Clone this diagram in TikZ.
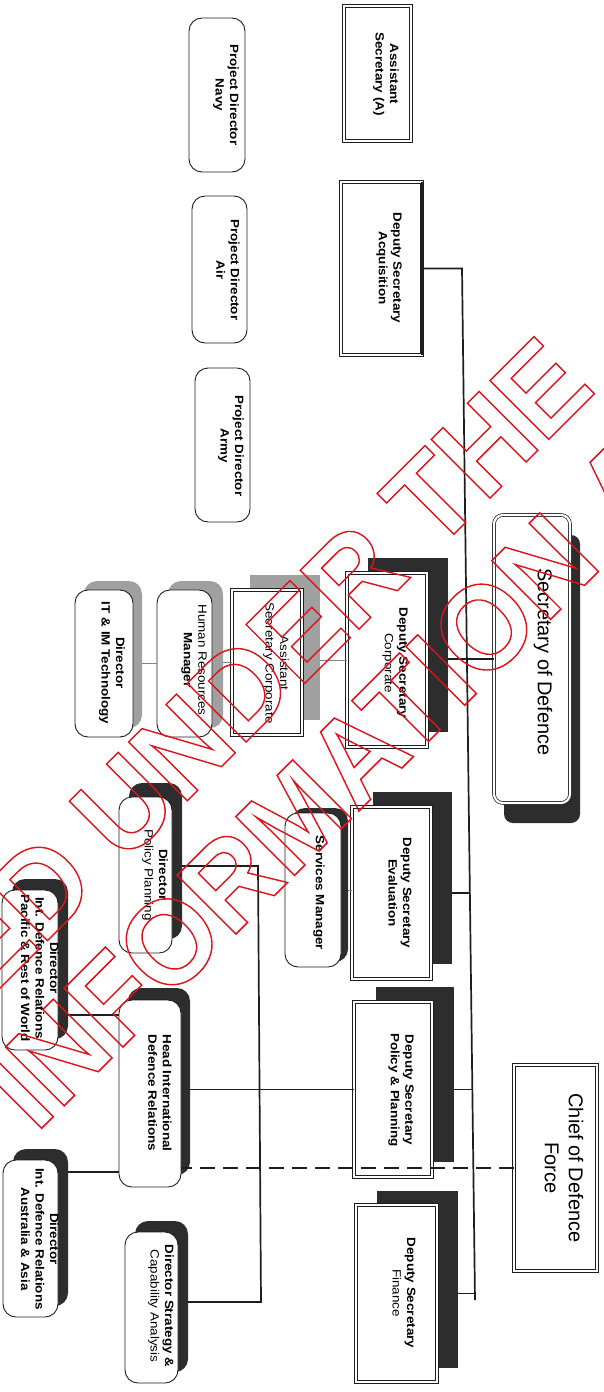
\documentclass[tikz,border=0pt]{standalone}
\usepackage{fontspec}
\setmainfont{Liberation Sans}
\usetikzlibrary{calc}
\definecolor{ink}{RGB}{30,30,30}
\definecolor{shade}{RGB}{45,45,45}
\definecolor{gshade}{RGB}{160,160,160}
\definecolor{wmred}{RGB}{220,20,30}
\newcommand\wmraw[1]{{\color{wmred}\special{pdf:literal direct 1 Tr 1.4 w}#1\special{pdf:literal direct 0 Tr}}}
\tikzset{
  bx/.style={inner sep=0pt, outer sep=0pt},
  rbox/.style={bx, draw=ink, fill=white, line width=0.9pt, rounded corners=13pt},
  dbox/.style={bx, draw=ink, fill=white, line width=0.7pt, double=white, double distance=2.2pt},
  drbox/.style={dbox, rounded corners=9pt},
  dsh/.style={bx, fill=shade},
  dshr/.style={dsh, rounded corners=13pt},
  dshq/.style={dsh, rounded corners=9pt},
  gsh/.style={bx, fill=gshade},
  gshr/.style={gsh, rounded corners=13pt},
  lbl/.style={rotate=-90, xscale=1.12, align=center, inner sep=0pt, font=\fontsize{12}{14.5}\selectfont\bfseries},
  lblr/.style={lbl, font=\fontsize{12}{14.5}\selectfont},
  big/.style={rotate=-90, align=center, inner sep=0pt, font=\fontsize{20}{24}\selectfont},
  conn/.style={draw=ink, line width=1.7pt},
  thinc/.style={draw=ink!55, line width=0.9pt},
  wm/.style={rotate=45, yscale=1.05, inner sep=0pt, outer sep=0pt, font=\fontsize{115}{130}\selectfont\bfseries}
}
\begin{document}
\begin{tikzpicture}[x=1pt, y=-1pt]
\useasboundingbox (0,0) rectangle (604,1392);
\fill[white] (0,0) rectangle (604,1392);
\clip (0,0) rectangle (604,1392);

% ---------- top-level column ----------
\node[dbox, minimum width=67pt, minimum height=135pt] (asA) at (377.5,73.5) {};
\node[lbl] (asA-t) at (386,74) {Assistant\\Secretary (A)};

\node[dbox, minimum width=81pt, minimum height=173pt] (dsAcq) at (381.5,268.5) {};
\draw[ink, line width=2.4pt] (dsAcq.north east) -- (dsAcq.south east);
\node[lbl] (dsAcq-t) at (389,268) {Deputy Secretary\\Acquisition};

\node[rbox, minimum width=56pt, minimum height=154pt] (pdNavy) at (217,95) {};
\node[lbl] (pdNavy-t) at (226,95) {Project Director\\Navy};
\node[rbox, minimum width=55pt, minimum height=147pt] (pdAir) at (219.5,269.5) {};
\node[lbl] (pdAir-t) at (228,270) {Project Director\\Air};
\node[rbox, minimum width=55pt, minimum height=154pt] (pdArmy) at (222.5,445) {};
\node[lbl] (pdArmy-t) at (231,446) {Project Director\\Army};

% ---------- Secretary of Defence ----------
\node[dshq, minimum width=76pt, minimum height=288pt] (secDefS) at (542,679) {};
\node[drbox, minimum width=76pt, minimum height=288pt] (secDef) at (532,659) {};
\node[big] (secDef-t) at (543,662) {Secretary of Defence};

% ---------- Corporate row ----------
\node[dsh, minimum width=80pt, minimum height=174pt] (dsCorpS) at (408,645) {};
\node[dbox, minimum width=80pt, minimum height=174pt] (dsCorp) at (387,660) {};
\node[lbl] (dsCorp-t) at (395,663) {Deputy Secretary\\{\mdseries Corporate}};

\node[gsh, minimum width=70pt, minimum height=145pt] (asCorpS) at (285,647.5) {};
\node[dbox, minimum width=70pt, minimum height=145pt] (asCorp) at (267,662.5) {};
\node[lblr] (asCorp-t) at (276,663) {Assistant\\Secretary Corporate};

\node[gshr, minimum width=55pt, minimum height=147pt] (hrS) at (195.5,654.5) {};
\node[rbox, minimum width=55pt, minimum height=147pt] (hr) at (184.5,663.5) {};
\node[lbl] (hr-t) at (194,660) {{\mdseries Human Resources}\\Manager};

\node[gshr, minimum width=58pt, minimum height=147pt] (itS) at (113,654.5) {};
\node[rbox, minimum width=58pt, minimum height=147pt] (it) at (104,663.5) {};
\node[lbl] (it-t) at (112,663) {Director\\IT \& IM Technology};

% ---------- Evaluation / Policy rows ----------
\node[dshr, minimum width=53pt, minimum height=156pt] (dirPPS) at (155.5,861) {};
\node[rbox, minimum width=53pt, minimum height=156pt] (dirPP) at (145.5,875) {};
\node[lbl] (dirPP-t) at (155,875) {Director\\{\mdseries Policy Planning}};

\node[dshr, minimum width=56pt, minimum height=154pt] (svcS) at (320,885) {};
\node[rbox, minimum width=56pt, minimum height=154pt] (svc) at (313,890) {};
\node[lbl] (svc-t) at (319,893) {Services Manager};

\node[dsh, minimum width=79pt, minimum height=172pt] (dsEvalS) at (412.5,878) {};
\node[dbox, minimum width=79pt, minimum height=172pt] (dsEval) at (391.5,893) {};
\node[lbl] (dsEval-t) at (400,893) {Deputy Secretary\\Evaluation};

\node[dsh, minimum width=78pt, minimum height=175pt] (dsPPS) at (415,1074.5) {};
\node[dbox, minimum width=78pt, minimum height=175pt] (dsPP) at (393,1089.5) {};
\node[lbl] (dsPP-t) at (401,1090) {Deputy Secretary\\Policy \& Planning};

\node[dsh, minimum width=81pt, minimum height=177pt] (dsFinS) at (417.5,1279.5) {};
\node[dbox, minimum width=81pt, minimum height=177pt] (dsFin) at (396.5,1293.5) {};
\node[lbl] (dsFin-t) at (404,1293) {Deputy Secretary\\{\mdseries Finance}};

\node[dshr, minimum width=62pt, minimum height=187pt] (headS) at (159,1081.5) {};
\node[rbox, minimum width=62pt, minimum height=187pt] (head) at (150,1093.5) {};
\node[lbl] (head-t) at (160,1093) {Head International\\Defence Relations};

\node[dshr, minimum width=56pt, minimum height=160pt] (dirPacS) at (40,959) {};
\node[rbox, minimum width=56pt, minimum height=160pt] (dirPac) at (30,970) {};
\node[lbl] (dirPac-t) at (40,968) {Director\\Int. Defence Relations\\Pacific \& Rest of World};

\node[dshr, minimum width=55pt, minimum height=157pt] (dirAusS) at (40.5,1227.5) {};
\node[rbox, minimum width=55pt, minimum height=157pt] (dirAus) at (30.5,1238.5) {};
\node[lbl] (dirAus-t) at (40,1239) {Director\\Int. Defence Relations\\Australia \& Asia};

\node[dshr, minimum width=53pt, minimum height=151pt] (dirStratS) at (161.5,1296.5) {};
\node[rbox, minimum width=53pt, minimum height=151pt] (dirStrat) at (151.5,1307.5) {};
\node[lbl] (dirStrat-t) at (161,1306) {Director Strategy \&\\{\mdseries Capability Analysis}};

\node[dbox, minimum width=83pt, minimum height=206pt] (chief) at (555.5,1168) {};
\node[big] (chief-t) at (564,1168) {Chief of Defence\\Force};

% ---------- connectors ----------
\coordinate (vtop) at (462,268.5);
\coordinate (vbot) at (475,1300);
\coordinate (jEval) at (470,893);
\coordinate (jPP) at (472.3,1089.5);
\coordinate (jFin) at (474.9,1293.5);
\coordinate (pTop) at (258,866);
\coordinate (pBot) at (261,1302);
\coordinate (pacY) at (90,1015);
\coordinate (ausY) at (90,1172);

\draw[conn] (dsAcq.east) -- (vtop) -- (vbot);
\draw[conn] (secDef.west) -- (secDef.west -| dsCorpS.east);
\draw[thinc] (dsCorp.west) -- (dsCorp.west -| asCorpS.east);
\draw[thinc] (asCorp.west) -- (asCorp.west -| hrS.east);
\draw[thinc] (hr.west) -- (hr.west -| itS.east);
\draw[conn] (dsEvalS.east |- dsEval.east) -- (jEval);
\draw[thinc] (svcS.east |- svc.east) -- (svc.east -| dsEval.west);
\draw[conn] (dsPPS.east |- dsPP.east) -- (jPP);
\draw[conn] (dsFinS.east |- dsFin.east) -- (jFin);
\draw[conn] (dsPP.west) -- (dsPP.west -| headS.east);
\draw[conn] (dirPPS.east |- pTop) -- (pTop) -- (pBot) -- (pBot -| dirStratS.east);
\draw[conn] (dirPacS.east |- pacY) -- (head.west |- pacY);
\draw[conn] (dirAusS.east |- ausY) -- (head.west |- ausY);
\draw[conn, line width=1.3pt, dash pattern=on 15pt off 8pt] (chief.west) -- (chief.west -| head.east);

% ---------- watermark (outlined red text) ----------
\node[wm, anchor=base east] (wm1) at (597.7,390.4) {\wmraw{RELEASED UNDER THE}};
\node[wm, anchor=base west] (wm2) at (36.2,1133.8) {\wmraw{INFORMATION ACT}};
\end{tikzpicture}
\end{document}
